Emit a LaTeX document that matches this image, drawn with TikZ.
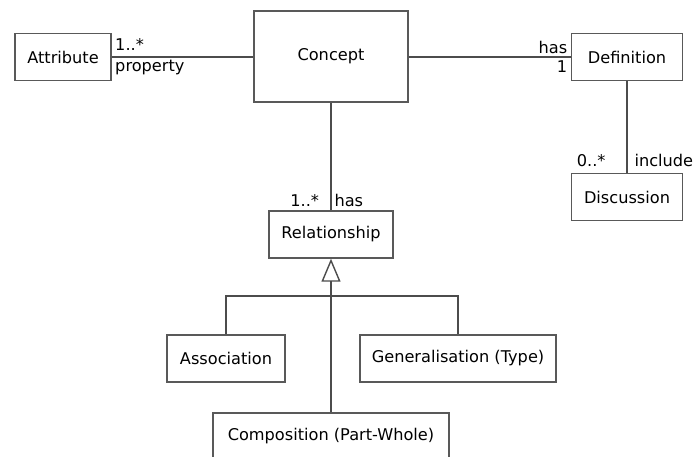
\documentclass[tikz,border=0pt]{standalone}
\usepackage{fontspec}
\setmainfont{DejaVu Sans}
\usepackage{tikz}
\usetikzlibrary{arrows.meta}

\tikzset{
    umlbox/.style={draw=black!65, line width=1pt, rectangle, minimum height=1.175cm, inner sep=0pt, font=\fontsize{11.5}{13}\selectfont},
    assoc/.style={draw=black!70, line width=1pt},
    mult/.style={font=\fontsize{11.5}{13}\selectfont, inner sep=2pt}
}

\begin{document}
\begin{tikzpicture}[x=0.025cm, y=-0.025cm]
    \useasboundingbox (0,0) rectangle (696,456);
    % Classes
    \node[umlbox, minimum width=2.4cm] (attr) at (63,57) {Attribute};
    \node[umlbox, minimum width=3.85cm, minimum height=2.275cm] (concept) at (331,56.5) {Concept};
    \node[umlbox, minimum width=2.775cm] (def) at (627,57) {Definition};
    \node[umlbox, minimum width=2.775cm] (disc) at (627,197) {Discussion};
    \node[umlbox, minimum width=3.1cm] (rel) at (331,234.5) {Relationship};
    \node[umlbox, minimum width=2.95cm] (assoc) at (226,358.5) {Association};
    \node[umlbox, minimum width=4.9cm] (gen) at (458,358.5) {Generalisation (Type)};
    \node[umlbox, minimum width=5.9cm] (comp) at (331,436.5) {Composition (Part-Whole)};
    \coordinate (bar) at (331,296);

    % Associations
    \draw[assoc] (attr.east) -- node[mult, pos=0, above right, yshift=2pt] {1..*} node[mult, pos=0, below right] {property} (attr.east -| concept.west);
    \draw[assoc] (concept.east |- def.west) -- node[mult, pos=1, above left] {has} node[mult, pos=1, below left] {1} (def.west);
    \draw[assoc] (def.south) -- node[mult, pos=1, above left, xshift=-0.45cm, yshift=2pt] {0..*} node[mult, pos=1, above right, xshift=0.1cm, yshift=2pt] {include} (disc.north);
    \draw[assoc] (concept.south) -- node[mult, pos=1, above left, xshift=-6pt] {1..*} node[mult, pos=1, above right] {has} (rel.north);

    % Generalisation
    \draw[assoc, -{Triangle[open, width=0.475cm, length=0.575cm]}] (comp.north) -- (rel.south);
    \draw[assoc] (assoc.north) |- (bar) -| (gen.north);
\end{tikzpicture}
\end{document}
